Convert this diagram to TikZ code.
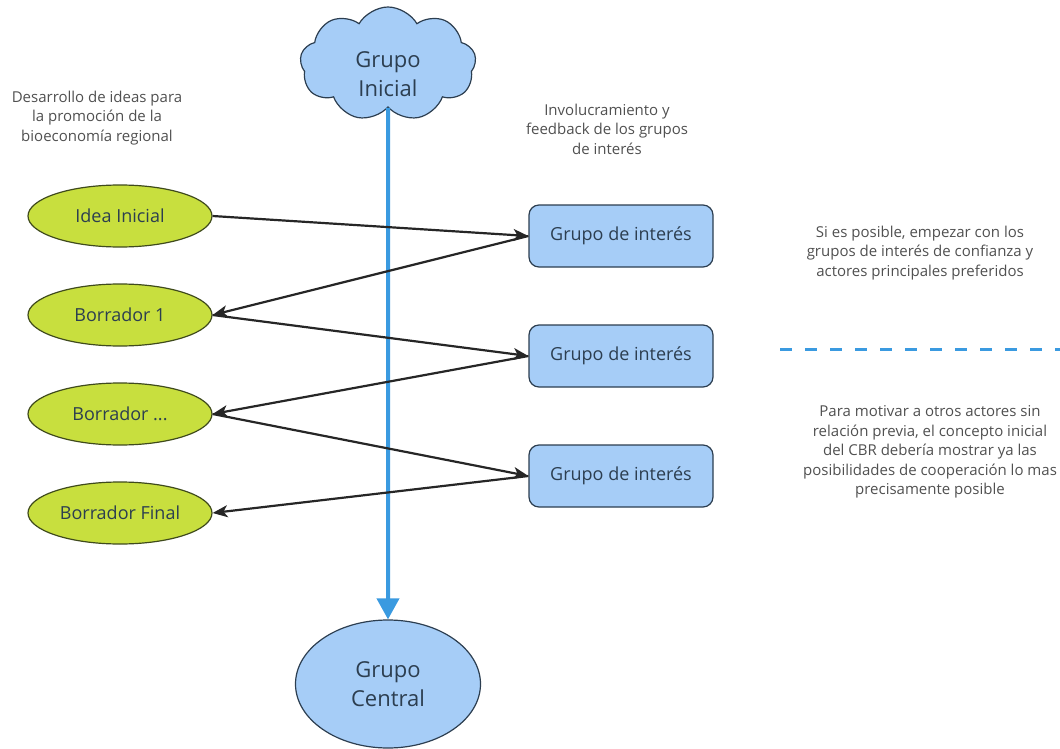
\documentclass[tikz,border=0pt]{standalone}
\usepackage{fontspec}
\setmainfont{Open Sans}
\usetikzlibrary{shapes.geometric,shapes.symbols,arrows.meta}
\definecolor{leaf}{HTML}{C8DF3E}
\definecolor{leafline}{HTML}{3F4A1C}
\definecolor{sky}{HTML}{A6CDF7}
\definecolor{navy}{HTML}{2C3E50}
\definecolor{flow}{HTML}{3A9AE0}
\definecolor{note}{HTML}{505050}
\tikzset{
  draftnode/.style={ellipse, draw=leafline, fill=leaf, line width=1.2pt,
    minimum width=184pt, minimum height=62pt, inner sep=0pt,
    text=navy, font=\fontsize{18}{21}\selectfont},
  stakebox/.style={rectangle, rounded corners=10pt, draw=navy, fill=sky, line width=1.2pt,
    minimum width=184pt, minimum height=62pt, inner sep=0pt,
    text=navy, font=\fontsize{18}{21}\selectfont},
  groupnode/.style={draw=navy, fill=sky, line width=1.2pt, inner sep=0pt,
    text=navy, align=center, font=\fontsize{22}{29}\selectfont},
  annot/.style={text=note, align=center, font=\fontsize{15}{19.5}\selectfont},
  feedback/.style={line width=2.2pt, draw=black!85,
    -{Stealth[length=15pt, width=12pt, inset=4pt]}},
}
\begin{document}
\begin{tikzpicture}[x=1pt, y=-1pt]
\useasboundingbox (0,0) rectangle (1060,749);

% central flow from the initial group to the core group
\node[groupnode, cloud, cloud puffs=9, cloud puff arc=120, aspect=1.5,
      minimum width=176pt, minimum height=114pt] (ini) at (388,64) {};
\node[text=navy, align=center, font=\fontsize{22}{29}\selectfont] (iniText) at (388,74) {Grupo\\Inicial};
\node[groupnode, ellipse, minimum width=185pt, minimum height=128pt] (core) at (388,684) {Grupo\\Central};
\draw[flow, line width=4pt, -{Triangle[length=21pt, width=22pt]}] (ini.south) -- (core.north);

% drafts
\node[draftnode] (d0) at (120,216) {Idea Inicial};
\node[draftnode] (d1) at (120,315) {Borrador 1};
\node[draftnode] (d2) at (120,414) {Borrador ...};
\node[draftnode] (d3) at (120,513) {Borrador Final};

% stakeholder rounds
\node[stakebox] (s1) at (621,236) {Grupo de interés};
\node[stakebox] (s2) at (621,356) {Grupo de interés};
\node[stakebox] (s3) at (621,476) {Grupo de interés};

\draw[feedback] (d0.east) -- (s1.west);
\draw[feedback] (s1.west) -- (d1.east);
\draw[feedback] (d1.east) -- (s2.west);
\draw[feedback] (s2.west) -- (d2.east);
\draw[feedback] (d2.east) -- (s3.west);
\draw[feedback] (s3.west) -- (d3.east);

% column headings
\node[annot] (h1) at (97,118) {Desarrollo de ideas para\\la promoción de la\\bioeconomía regional};
\node[annot] (h2) at (607,129) {Involucramiento y\\feedback de los grupos\\de interés};

% side notes
\node[annot] (n1) at (920,253) {Si es posible, empezar con los\\grupos de interés de confianza y\\actores principales preferidos};
\coordinate (sepL) at (780,349);
\coordinate (sepR) at (1060,349);
\draw[flow, line width=3pt, dash pattern=on 12pt off 13pt] (sepL) -- (sepR);
\node[annot] (n2) at (930,452) {Para motivar a otros actores sin\\relación previa, el concepto inicial\\del CBR debería mostrar ya las\\posibilidades de cooperación lo mas\\precisamente posible};
\end{tikzpicture}
\end{document}
